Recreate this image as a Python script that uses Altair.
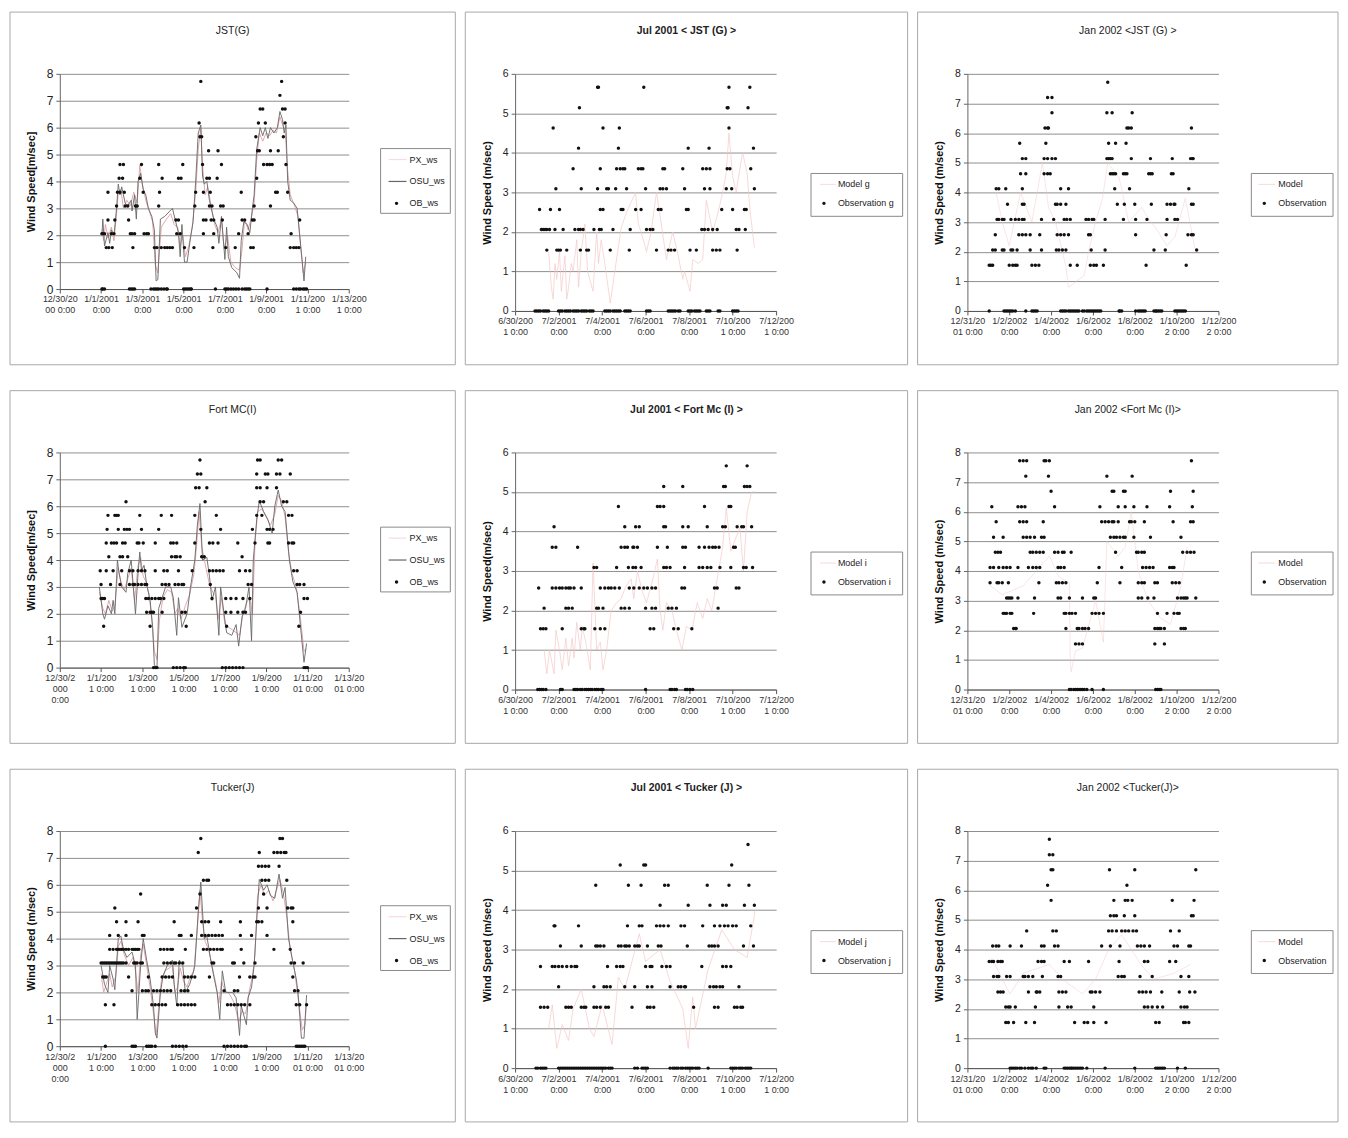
import json
import altair as alt
import pandas as pd

FONT = "Liberation Sans"

# ---------------- tick positions (hours from first tick) and labels ----------------
TICKS_14D = [0, 48, 96, 144, 192, 240, 288, 336]
TICKS_12D = [0, 48, 96, 144, 192, 240, 288]
LABELS_JAN01_JST = ["12/30/20|00 0:00", "1/1/2001|0:00", "1/3/2001|0:00", "1/5/2001|0:00",
                    "1/7/2001|0:00", "1/9/2001|0:00", "1/11/200|1 0:00", "1/13/200|1 0:00"]
LABELS_JAN01 = ["12/30/2|000|0:00", "1/1/200|1 0:00", "1/3/200|1 0:00", "1/5/200|1 0:00",
                "1/7/200|1 0:00", "1/9/200|1 0:00", "1/11/20|01 0:00", "1/13/20|01 0:00"]
LABELS_JUL01 = ["6/30/200|1 0:00", "7/2/2001|0:00", "7/4/2001|0:00", "7/6/2001|0:00",
                "7/8/2001|0:00", "7/10/200|1 0:00", "7/12/200|1 0:00"]
LABELS_JAN02 = ["12/31/20|01 0:00", "1/2/2002|0:00", "1/4/2002|0:00", "1/6/2002|0:00",
                "1/8/2002|0:00", "1/10/200|2 0:00", "1/12/200|2 0:00"]

# ---------------- Panel A: JST(G), Jan 2001 ----------------
A_OBS = [(49,2.06),(50,2.06),(52,2.06),(54,1.54),(57,1.54),(56,2.57),(56,3.6),(60,2.06),(63,2.06),(61,1.54),
         (64,2.57),(66,3.09),(67,3.6),(70,3.6),(69,4.12),(73,4.12),(70,4.63),(74,4.63),(75,3.6),(76,3.09),
         (79,3.09),(80,2.57),(82,2.06),(85,1.54),(84,2.06),(87,2.06),(88,3.09),(90,3.09),(93,4.12),(95,4.63),
         (97,3.6),(98,2.06),(101,2.06),(103,2.06),(110,1.54),(113,1.54),(115,4.63),(116,3.6),(115,3.09),(119,4.12),
         (118,1.54),(122,1.54),(125,1.54),(128,1.54),(131,1.54),(135,2.57),(138,2.57),(136,2.06),(140,2.06),(138,4.12),
         (141,4.12),(143,4.63),(145,1.54),(156,1.54),(157,3.09),(158,3.6),(162,6.17),(163,5.66),(164,7.72),(165,5.66),
         (166,4.63),(167,3.6),(167,2.57),(170,2.57),(167,2.06),(173,5.14),(171,4.12),(174,4.12),(174,3.09),(177,3.09),
         (175,3.6),(176,2.57),(179,2.57),(179,2.06),(178,1.54),(184,5.14),(183,4.12),(188,4.63),(187,3.09),(190,3.09),
         (189,2.57),(193,1.54),(204,1.54),(208,2.06),(211,3.6),(212,2.57),(215,2.57),(219,2.06),(222,1.54),(225,1.54),
         (224,2.57),(226,2.57),(226,3.09),(229,4.12),(228,5.66),(230,5.14),(232,5.14),(231,6.17),(233,6.69),(236,6.69),
         (239,6.17),(237,4.63),(241,4.63),(244,4.63),(247,4.63),(245,3.09),(245,5.14),(251,3.6),(253,3.6),(254,5.14),
         (256,7.2),(258,7.72),(259,6.69),(262,6.69),(260,5.66),(262,6.17),(263,4.63),(265,3.6),(269,2.06),(268,1.54),
         (272,1.54),(275,1.54),(278,1.54),(279,2.57)]
A_ZERO = [49,50,52,81,83,85,87,106,109,111,113,115,118,121,124,125,144,146,148,150,152,153,181,192,194,196,
          199,202,205,208,212,215,217,219,221,241,272,275,278,280,283,285,287]
A_OSU = [(49,2.0),(50,2.6),(52,1.6),(56,2.1),(58,1.7),(60,2.2),(63,2.0),(66,3.0),(68,3.9),(70,3.5),(72,3.8),
         (76,3.2),(79,3.1),(83,3.3),(84,2.9),(87,3.5),(89,2.6),(91,4.0),(94,4.3),(97,3.7),(100,3.5),(103,3.0),
         (107,2.7),(110,2.2),(112,0.3),(114,0.35),(117,2.6),(122,2.7),(128,2.9),(131,3.0),(134,2.6),(138,2.1),
         (140,1.2),(142,2.4),(145,1.0),(148,1.0),(152,1.9),(155,2.5),(158,4.0),(161,5.8),(164,6.1),(166,4.2),
         (168,3.9),(171,4.0),(174,3.3),(179,2.6),(183,2.3),(185,1.7),(188,2.7),(192,1.1),(194,2.3),(196,1.2),
         (200,0.8),(206,0.6),(209,0.4),(211,1.8),(214,2.5),(218,2.4),(221,2.1),(224,3.0),(226,3.5),(229,5.2),
         (233,6.0),(236,5.7),(239,6.0),(242,5.6),(245,6.0),(249,5.8),(253,6.0),(256,6.6),(259,6.3),(261,5.8),
         (263,6.1),(265,4.0),(268,3.3),(272,3.2),(276,3.0),(279,2.0),(282,1.0),(284,0.3),(286,1.2)]
A_PX = [(49,2.2),(51,1.8),(53,2.4),(56,1.9),(60,2.3),(63,1.8),(66,2.8),(68,3.6),(71,3.7),(74,3.0),(78,3.3),
        (82,3.1),(86,3.6),(90,3.2),(93,4.6),(96,3.9),(100,3.3),(104,2.9),(108,2.5),(111,0.9),(114,0.6),(118,2.3),
        (124,2.6),(129,2.8),(133,2.4),(137,2.3),(140,1.6),(143,2.0),(146,1.2),(150,1.6),(154,2.3),(158,3.6),
        (161,5.2),(164,6.0),(166,4.6),(169,3.5),(172,3.8),(176,3.1),(180,2.4),(184,2.1),(188,2.6),(191,1.5),
        (195,2.0),(199,1.0),(204,0.8),(209,0.7),(212,1.5),(215,2.6),(219,2.2),(223,2.7),(226,3.2),(229,4.8),
        (232,5.8),(236,5.5),(240,5.8),(244,5.7),(248,5.9),(252,5.8),(256,6.4),(259,6.1),(262,5.9),(265,4.4),
        (268,3.5),(273,3.1),(277,2.7),(280,1.6),(283,0.6),(286,1.0)]

# ---------------- Panel D: Fort MC(I), Jan 2001 ----------------
D_OBS = [(48,3.09),(47,3.6),(48,2.57),(50,2.57),(52,2.57),(51,1.54),(54,3.6),(56,5.66),(55,5.14),(54,4.63),
         (57,4.12),(59,3.09),(62,3.6),(64,5.66),(66,5.66),(68,5.66),(68,5.14),(60,4.63),(63,4.63),(66,4.63),
         (70,4.12),(73,4.12),(72,3.6),(70,3.09),(77,6.17),(75,5.14),(78,5.14),(81,5.14),(73,4.63),(76,4.63),
         (81,3.6),(85,3.6),(81,3.09),(85,3.09),(79,4.12),(93,5.66),(95,5.14),(90,4.63),(92,4.63),(97,4.63),
         (87,3.09),(91,3.09),(95,3.09),(99,3.09),(101,3.09),(91,3.6),(95,3.6),(99,3.6),(100,2.57),(103,2.57),
         (101,2.06),(105,2.06),(107,2.57),(111,2.57),(115,2.57),(107,2.06),(109,2.06),(105,1.54),(111,3.6),
         (111,4.63),(115,5.14),(118,5.66),(117,2.57),(121,2.57),(119,2.06),(119,3.09),(123,3.09),(127,3.09),
         (121,3.6),(125,3.6),(129,4.63),(132,4.63),(130,5.66),(130,4.12),(134,4.12),(134,3.09),(138,3.09),
         (142,3.09),(144,3.09),(136,4.12),(140,4.12),(142,2.06),(146,2.06),(147,1.54),(138,3.6),(136,4.63),
         (154,3.6),(157,4.63),(157,5.66),(158,6.69),(162,6.69),(160,7.2),(164,7.2),(163,7.72),(164,5.14),
         (165,4.12),(168,4.12),(171,6.69),(169,6.17),(174,4.63),(178,4.63),(184,4.63),(182,5.66),(174,3.6),
         (178,3.6),(182,3.6),(186,3.6),(190,3.6),(187,5.14),(175,3.09),(177,2.57),(193,2.57),(199,2.57),
         (205,2.57),(213,2.57),(193,2.06),(199,2.06),(207,2.06),(213,2.06),(216,2.06),(194,1.54),(207,4.63),
         (212,4.12),(209,3.6),(216,3.6),(221,3.6),(219,3.09),(221,2.57),(223,3.09),(224,5.14),(227,4.63),
         (229,6.69),(233,6.69),(229,7.2),(230,7.72),(233,7.72),(233,6.17),(237,6.17),(229,5.66),(235,5.66),
         (241,5.14),(244,5.14),(248,5.14),(239,7.2),(242,7.2),(241,6.69),(242,4.63),(244,4.63),(252,6.69),
         (254,7.72),(258,7.72),(252,7.2),(256,7.2),(260,6.17),(264,6.17),(266,5.66),(270,5.66),(266,4.63),
         (270,4.63),(272,4.63),(268,7.2),(272,3.6),(276,3.6),(276,3.09),(279,3.09),(284,3.09),(284,2.57),
         (288,2.57),(280,2.06),(278,1.54)]
D_ZERO = [109,111,113,132,136,140,144,146,189,193,197,201,205,209,213,284,286,288]
D_OSU = [(46,3.0),(50,2.0),(52,1.8),(56,2.3),(60,2.0),(62,2.5),(64,2.0),(66,3.3),(67,4.0),(69,3.5),(72,3.0),
         (77,2.8),(79,3.5),(83,4.0),(88,2.0),(91,3.5),(93,4.3),(95,3.6),(98,3.8),(101,3.1),(105,2.5),(108,1.5),
         (110,0.1),(113,0.0),(115,2.2),(118,2.5),(123,3.0),(129,3.0),(132,2.6),(136,1.2),(138,2.6),(142,1.5),
         (148,2.0),(152,3.0),(157,4.0),(160,5.3),(163,6.1),(166,4.0),(171,4.1),(174,3.4),(177,2.5),(181,3.0),
         (185,1.2),(187,3.0),(191,2.0),(194,1.3),(200,1.2),(205,1.6),(208,0.8),(212,1.9),(216,2.2),(220,3.0),
         (223,1.0),(225,4.0),(229,5.5),(232,6.2),(237,5.8),(242,5.5),(247,5.0),(250,6.0),(254,6.6),(258,6.0),
         (262,5.8),(267,4.0),(271,3.2),(276,2.8),(280,1.5),(284,0.2),(287,0.9)]
D_PX = [(46,2.8),(50,2.2),(53,2.0),(57,2.5),(61,2.1),(64,2.3),(66,3.0),(68,3.7),(71,3.2),(75,2.9),(79,3.3),
        (83,3.7),(87,2.5),(91,3.8),(94,4.1),(97,3.4),(100,3.2),(104,2.7),(107,1.8),(110,0.6),(113,0.3),(116,1.8),
        (120,2.6),(125,2.9),(130,2.8),(134,2.0),(137,2.2),(141,1.8),(146,2.3),(151,2.7),(156,3.5),(159,4.5),
        (162,5.8),(165,4.5),(170,3.7),(174,3.1),(178,2.8),(181,2.7),(184,1.8),(188,2.6),(192,1.6),(196,1.5),
        (201,1.4),(205,1.3),(209,1.2),(213,2.0),(217,2.4),(221,2.6),(224,2.0),(227,4.6),(230,5.8),(235,5.9),
        (240,5.6),(245,5.3),(250,5.7),(254,6.4),(258,6.2),(262,5.6),(266,4.3),(270,3.5),(275,3.0),(280,1.8),
        (284,0.6),(287,0.7)]

# ---------------- Panel G: Tucker(J), Jan 2001 ----------------
G_OBS = [(48,3.09),(50,3.09),(52,3.09),(54,3.09),(56,3.09),(58,3.09),(60,3.09),(62,3.09),(64,3.09),(66,3.09),
         (68,3.09),(70,3.09),(72,3.09),(50,2.57),(52,2.57),(54,2.57),(53,1.54),(63,1.54),(58,4.12),(68,4.12),
         (64,5.14),(66,4.63),(58,3.6),(62,3.6),(66,3.6),(68,3.6),(70,3.6),(72,3.6),(74,3.6),(77,3.6),(80,3.6),
         (84,3.6),(86,3.6),(88,3.6),(90,3.6),(92,3.6),(77,4.63),(77,4.12),(74,3.09),(77,3.09),(86,3.09),(88,3.09),
         (90,3.09),(94,3.09),(96,3.09),(80,2.57),(84,2.06),(91,4.63),(94,5.66),(96,4.12),(98,4.12),(96,2.06),
         (100,2.06),(103,2.06),(103,2.57),(107,1.54),(111,1.54),(115,1.54),(119,1.54),(123,1.54),(109,2.06),
         (113,2.06),(117,2.06),(121,2.06),(125,2.06),(129,2.06),(117,3.6),(121,3.6),(125,3.6),(119,2.57),
         (123,2.57),(127,2.57),(131,2.57),(121,3.09),(125,3.09),(129,3.09),(133,3.09),(129,3.6),(131,3.6),
         (133,4.63),(139,4.12),(141,4.12),(135,3.09),(139,3.09),(143,3.09),(137,1.54),(141,1.54),(145,1.54),
         (149,1.54),(153,1.54),(157,1.54),(141,2.06),(145,2.06),(149,2.06),(145,2.57),(149,2.57),(153,2.57),
         (157,2.57),(146,3.6),(153,4.12),(159,5.14),(161,7.2),(164,7.72),(163,5.66),(167,6.17),(171,6.17),
         (173,6.17),(165,4.63),(169,4.63),(173,4.63),(165,4.12),(169,4.12),(173,4.12),(177,4.12),(181,4.12),
         (185,4.12),(189,4.12),(167,3.6),(171,3.6),(175,3.6),(179,3.6),(183,3.6),(187,3.6),(189,3.6),(177,3.09),
         (179,3.09),(174,2.57),(187,4.63),(191,2.06),(195,1.54),(199,1.54),(203,1.54),(201,3.09),(203,3.09),
         (203,2.06),(207,2.06),(207,1.54),(211,1.54),(215,1.54),(210,4.12),(211,3.6),(210,4.63),(209,2.57),
         (214,3.09),(223,4.12),(221,2.57),(225,2.57),(227,2.57),(221,1.54),(227,3.09),(229,4.63),(231,4.63),
         (235,4.63),(231,5.14),(232,7.2),(231,6.69),(235,6.69),(239,6.69),(243,6.69),(235,6.17),(239,6.17),
         (243,6.17),(237,5.66),(241,5.14),(241,4.12),(249,3.6),(249,7.2),(253,7.2),(257,7.2),(261,7.2),(263,7.2),
         (256,7.72),(259,7.72),(255,6.69),(264,6.17),(265,5.14),(269,5.14),(271,5.14),(271,4.63),(268,3.6),
         (269,3.09),(273,3.09),(271,2.57),(273,2.06),(277,2.06),(275,1.54),(279,1.54),(283,3.09),(287,1.54)]
G_ZERO = [53,84,86,88,101,103,105,107,111,131,135,139,143,147,191,195,199,203,207,211,215,217,275,277,279,281,283,285]
G_OSU = [(48,3.0),(52,2.3),(56,2.0),(58,3.0),(62,2.5),(64,2.1),(68,4.0),(71,4.1),(74,3.6),(78,3.3),(84,3.5),
         (88,3.0),(90,1.0),(94,3.0),(97,4.0),(101,3.2),(105,2.5),(109,1.5),(111,0.5),(113,0.3),(117,2.0),(120,2.6),
         (125,3.0),(131,3.2),(133,2.3),(136,1.5),(139,3.2),(143,3.0),(146,2.0),(151,2.3),(154,2.6),(157,3.0),
         (161,5.0),(164,6.1),(166,5.0),(168,4.0),(171,4.1),(175,3.3),(179,2.6),(183,2.0),(186,1.0),(189,2.8),
         (193,2.0),(201,2.0),(205,1.8),(209,0.4),(211,1.5),(217,0.8),(219,1.8),(223,2.2),(226,3.0),(230,5.2),
         (232,6.2),(237,5.8),(241,6.0),(245,5.6),(250,5.5),(255,6.4),(259,5.5),(262,5.9),(266,4.0),(270,3.3),
         (275,2.5),(277,2.0),(281,0.3),(284,0.3),(287,1.9)]
G_PX = [(48,2.7),(51,2.0),(55,2.4),(58,2.7),(61,2.2),(65,2.6),(68,3.7),(71,3.9),(75,3.4),(80,3.0),(85,3.3),
        (88,2.8),(91,2.0),(94,3.4),(97,3.8),(101,3.0),(105,2.2),(109,1.2),(112,0.4),(115,1.4),(118,2.4),(122,2.8),
        (127,2.9),(131,3.0),(134,2.0),(137,2.2),(140,2.9),(144,2.4),(148,2.2),(152,2.6),(156,2.8),(160,4.4),
        (163,5.8),(166,4.6),(169,3.9),(173,3.6),(177,3.0),(181,2.4),(185,1.6),(188,2.4),(192,2.1),(198,1.9),
        (203,1.6),(208,0.9),(212,1.3),(216,1.2),(220,2.0),(224,2.6),(227,3.4),(230,5.6),(234,6.0),(238,5.6),
        (243,5.8),(248,5.4),(253,5.9),(256,6.2),(260,5.7),(264,4.8),(268,3.6),(273,2.8),(278,1.6),(282,0.6),
        (285,0.8),(287,1.6)]

# ---------------- Panel B: JST (G), Jul 2001 ----------------
B_OBS = [(27,2.57),(29,2.06),(31,2.06),(33,2.06),(35,2.06),(38,2.06),(35,1.54),(39,2.57),(42,4.63),(45,3.09),
         (44,2.06),(46,1.54),(48,1.54),(49,2.57),(50,1.54),(53,2.06),(57,1.54),(64,3.6),(66,2.06),(71,5.14),
         (70,4.12),(70,2.06),(72,2.06),(75,2.06),(72,1.54),(73,3.09),(79,1.54),(81,1.54),(87,2.06),(91,5.66),
         (92,5.66),(91,3.09),(93,2.06),(95,2.06),(94,2.57),(97,2.57),(94,3.6),(97,4.63),(101,3.09),(103,3.09),
         (108,2.06),(105,1.54),(115,4.63),(114,4.12),(112,3.6),(116,3.6),(119,3.6),(121,3.6),(117,2.57),
         (119,2.57),(111,3.09),(123,3.09),(127,2.06),(126,1.54),(133,2.57),(136,3.6),(139,3.6),(141,3.6),
         (139,2.57),(142,5.66),(144,3.09),(145,2.06),(149,2.06),(152,2.06),(156,1.54),(163,3.6),(165,3.6),
         (158,2.57),(161,2.57),(160,3.09),(163,3.09),(167,3.09),(169,1.54),(172,1.54),(176,1.54),(185,3.6),
         (187,3.09),(189,2.57),(191,2.57),(191,4.12),(193,1.54),(200,1.54),(206,2.06),(209,2.06),(213,2.06),
         (218,2.06),(207,3.6),(211,3.6),(215,3.6),(214,4.12),(209,3.09),(215,3.09),(218,1.54),(222,1.54),
         (226,1.54),(223,2.06),(233,3.09),(234,3.6),(237,3.6),(228,2.57),(234,5.14),(235,5.14),(236,5.66),
         (236,4.63),(239,3.09),(240,2.57),(244,2.06),(247,2.06),(245,1.54),(253,2.57),(255,2.57),(254,2.06),
         (257,5.14),(259,5.66),(260,3.6),(263,4.12),(264,3.09)]
B_ZERO = [22,24,26,28,31,33,35,37,48,50,52,55,57,59,61,64,66,68,70,73,75,77,79,82,84,86,99,101,103,105,108,
          110,112,114,116,121,123,125,127,145,147,149,169,171,173,175,177,180,182,191,193,195,198,200,202,204,
          211,213,215,224,226,240,242,244,246]
B_MODEL = [(37,1.5),(40,0.6),(42,0.3),(44,1.2),(46,0.8),(49,1.5),(51,0.5),(55,1.4),(57,0.3),(59,0.6),(62,1.2),
           (64,1.0),(68,1.8),(70,0.6),(73,1.5),(77,2.2),(80,1.0),(86,0.5),(90,2.0),(92,1.2),(95,1.8),(99,1.2),
           (105,0.2),(110,1.0),(117,2.1),(123,2.5),(133,3.0),(136,2.2),(139,2.0),(145,1.5),(150,2.0),(156,3.0),
           (160,2.4),(167,1.3),(174,2.0),(180,1.4),(185,0.8),(187,1.0),(193,0.5),(196,1.3),(202,1.2),(207,1.3),
           (211,2.8),(218,2.0),(224,2.5),(229,3.0),(233,3.5),(236,4.5),(240,3.4),(244,3.0),(248,3.6),(251,4.0),
           (256,3.5),(259,2.6),(262,2.0),(264,1.6)]

# ---------------- Panel E: Fort Mc (I), Jul 2001 ----------------
E_OBS = [(26,2.57),(32,2.06),(28,1.54),(31,1.54),(34,1.54),(43,4.12),(41,3.6),(45,3.6),(41,2.57),(45,2.57),
         (49,2.57),(52,2.57),(56,2.57),(59,2.57),(61,2.57),(65,2.57),(56,2.06),(59,2.06),(63,2.06),(52,1.54),
         (69,3.6),(73,2.57),(73,1.54),(76,1.54),(77,1.54),(87,3.09),(90,3.09),(90,2.06),(92,2.06),(97,2.06),
         (88,1.54),(94,1.54),(99,1.54),(94,2.57),(99,2.57),(103,2.57),(106,2.57),(110,2.57),(115,2.57),
         (114,4.63),(112,3.09),(121,4.12),(117,3.6),(121,3.6),(124,3.6),(130,3.6),(117,2.06),(121,2.06),
         (126,2.06),(125,3.09),(130,3.09),(133,3.09),(139,3.09),(126,2.57),(131,2.57),(137,2.57),(142,2.57),
         (146,2.57),(151,2.57),(155,2.57),(133,4.12),(137,4.12),(131,3.6),(135,3.6),(144,2.06),(151,2.06),
         (155,2.06),(149,1.54),(153,1.54),(157,3.6),(157,4.63),(160,4.63),(164,4.63),(164,5.14),(164,4.12),
         (166,4.12),(164,3.09),(167,3.09),(171,3.09),(168,3.6),(169,2.06),(173,2.06),(178,2.06),(175,1.54),
         (180,1.54),(184,2.57),(187,2.57),(185,3.6),(188,3.6),(185,4.12),(191,4.12),(185,5.14),(187,3.09),
         (195,1.54),(203,3.6),(203,3.09),(207,3.09),(212,3.09),(216,3.09),(209,4.63),(212,4.12),(209,3.6),
         (214,3.6),(218,3.6),(221,3.6),(225,3.6),(220,2.57),(223,2.57),(224,2.06),(226,3.09),(229,4.12),
         (232,4.12),(230,5.14),(232,5.14),(233,5.66),(236,4.63),(238,4.63),(238,3.09),(241,3.6),(243,3.6),
         (244,2.57),(247,2.57),(245,4.12),(250,4.12),(252,3.09),(255,3.09),(252,4.12),(253,5.14),(256,5.14),
         (259,5.14),(256,5.66),(262,3.09),(261,4.12)]
E_ZERO = [25,27,29,31,34,50,52,65,67,69,72,74,77,79,81,83,85,88,90,92,95,97,144,171,173,176,178,188,190,193,196]
E_MODEL = [(32,1.0),(35,0.4),(38,1.0),(43,0.4),(45,1.5),(49,1.0),(52,0.5),(56,1.3),(59,0.6),(63,1.3),(65,0.8),
           (68,1.7),(72,1.0),(74,1.6),(78,1.2),(83,0.5),(86,3.2),(90,1.0),(94,1.2),(97,0.5),(101,1.0),(106,2.0),
           (112,2.2),(117,2.3),(122,2.6),(128,2.8),(131,2.3),(135,3.0),(140,2.5),(145,2.2),(151,2.7),(157,3.3),
           (160,2.0),(163,1.5),(167,2.2),(173,2.0),(178,1.5),(184,1.0),(189,1.6),(195,1.5),(201,2.2),(207,1.8),
           (212,2.3),(217,2.0),(223,2.8),(229,3.6),(233,4.6),(238,3.5),(243,3.8),(248,4.1),(252,3.0),(256,4.5),
           (261,5.0),(266,5.0)]

# ---------------- Panel H: Tucker (J), Jul 2001 ----------------
H_OBS = [(28,2.57),(28,1.54),(32,1.54),(36,1.54),(43,3.6),(44,3.6),(41,2.57),(44,2.57),(48,2.57),(52,2.57),
         (57,2.57),(48,2.06),(50,3.09),(56,1.54),(59,1.54),(62,1.54),(62,2.57),(66,2.57),(68,2.57),(70,3.6),
         (73,3.09),(73,1.54),(76,1.54),(78,1.54),(89,4.63),(87,2.06),(87,1.54),(90,1.54),(94,1.54),(89,3.09),
         (91,3.09),(94,3.09),(98,3.09),(98,2.06),(101,2.06),(105,2.06),(100,1.54),(103,1.54),(102,2.57),
         (112,2.57),(116,2.57),(119,2.57),(114,3.09),(117,3.09),(121,3.09),(116,5.14),(125,4.63),(124,3.6),
         (123,3.09),(126,3.09),(121,2.06),(129,1.54),(132,3.09),(135,3.09),(137,3.09),(132,2.06),(142,5.14),
         (144,5.14),(139,4.63),(137,3.6),(140,3.6),(146,3.09),(144,2.57),(149,2.57),(151,2.57),(146,2.06),
         (151,2.06),(146,1.54),(149,1.54),(153,1.54),(156,3.6),(160,3.6),(164,3.6),(160,4.12),(158,3.09),
         (161,3.09),(162,2.57),(167,2.57),(171,2.57),(165,4.63),(169,4.63),(169,3.6),(171,2.06),(180,2.06),
         (183,2.06),(187,2.06),(188,2.06),(183,3.6),(187,3.6),(191,4.12),(190,3.09),(197,1.54),(206,2.57),
         (207,3.6),(212,4.63),(215,4.12),(214,3.09),(217,3.09),(220,3.09),(224,3.09),(215,2.06),(219,2.06),
         (222,2.06),(226,2.06),(229,2.06),(220,1.54),(224,1.54),(220,3.6),(226,3.6),(231,3.6),(235,3.6),
         (240,3.6),(229,4.12),(233,4.12),(236,4.63),(239,5.14),(229,2.57),(233,2.57),(238,2.57),(247,2.06),
         (242,1.54),(245,1.54),(249,1.54),(251,1.54),(244,3.6),(253,4.12),(257,5.66),(258,4.63),(260,3.6),
         (252,3.09),(263,3.09),(264,4.12)]
H_ZERO = [23,25,28,30,32,34,48,50,52,54,56,58,60,62,64,66,68,70,72,74,76,78,80,82,84,86,88,90,92,94,96,98,
          100,103,105,107,132,135,140,142,144,146,171,174,176,178,180,183,185,188,190,192,194,196,199,201,203,
          213,238,240,242,244,247,249,251,254,256,258,260]
H_MODEL = [(37,1.0),(41,1.6),(46,0.5),(52,1.1),(59,0.7),(64,1.5),(73,2.0),(82,1.0),(87,0.8),(96,1.6),(107,0.6),
           (114,2.3),(121,2.0),(137,3.4),(144,2.7),(160,3.0),(171,2.2),(185,1.5),(191,0.5),(196,1.8),(199,1.0),
           (213,2.5),(228,3.5),(242,3.0),(256,2.8),(265,4.0)]

# ---------------- Panel C: JST (G), Jan 2002 ----------------
C_OBS = [(25,1.54),(27,1.54),(29,1.54),(29,2.06),(32,2.06),(32,2.57),(34,3.09),(36,3.09),(40,3.09),(42,3.09),
         (33,4.12),(36,4.12),(44,4.12),(46,3.6),(40,2.06),(42,2.06),(48,1.54),(52,1.54),(55,1.54),(57,1.54),
         (50,2.06),(57,2.06),(50,3.09),(55,3.09),(59,3.09),(63,3.09),(65,3.09),(52,2.06),(60,5.66),(63,5.14),
         (67,5.14),(61,4.63),(67,4.63),(63,4.12),(63,3.6),(65,3.6),(59,2.57),(63,2.57),(67,2.57),(72,2.57),
         (72,2.06),(74,1.54),(78,1.54),(82,1.54),(85,3.09),(83,2.57),(85,2.06),(90,5.66),(88,5.14),(92,5.14),
         (97,5.14),(101,5.14),(88,4.63),(92,4.63),(95,4.63),(89,6.17),(92,6.17),(93,6.17),(92,7.2),(97,7.2),
         (97,6.69),(99,3.09),(101,3.6),(103,3.6),(107,3.6),(103,2.57),(107,2.57),(111,2.57),(116,2.57),
         (102,2.06),(105,2.06),(109,2.06),(113,2.06),(107,4.12),(116,4.12),(113,3.6),(111,3.09),(114,3.09),
         (118,3.09),(118,1.54),(126,1.54),(136,3.09),(139,3.09),(143,3.09),(145,3.09),(139,2.57),(141,2.57),
         (142,2.06),(141,1.54),(145,1.54),(148,1.54),(158,3.09),(158,2.06),(156,1.54),(160,5.14),(162,5.14),
         (164,5.14),(166,5.14),(160,6.69),(166,6.69),(161,7.72),(162,5.66),(164,4.63),(166,4.63),(168,4.63),
         (170,4.63),(169,4.12),(172,3.6),(170,5.66),(182,5.66),(179,4.63),(181,4.63),(183,4.63),(183,6.17),
         (185,6.17),(188,6.17),(189,6.69),(188,5.14),(186,4.12),(180,3.6),(192,3.6),(179,3.09),(193,3.09),
         (193,2.57),(206,3.09),(208,4.63),(210,4.63),(212,4.63),(210,5.14),(211,3.6),(205,1.54),(214,2.06),
         (235,5.14),(234,4.63),(236,4.63),(229,3.6),(233,3.6),(237,3.6),(238,3.6),(229,3.09),(238,3.09),
         (241,3.09),(228,2.57),(227,2.06),(251,1.54),(254,4.12),(257,6.17),(256,5.14),(258,5.14),(259,5.14),
         (257,3.6),(259,3.6),(253,2.57),(257,2.57),(259,2.57),(263,2.06)]
C_ZERO = [25,42,44,46,48,50,52,55,67,74,76,78,80,107,109,111,113,116,118,120,122,124,126,128,132,134,137,139,
          141,143,145,147,149,151,153,174,175,177,193,196,198,200,202,204,214,216,217,219,221,223,238,240,242,
          244,246,248,250]
C_MODEL = [(33,4.0),(40,3.0),(48,2.2),(61,4.0),(74,3.0),(86,5.0),(93,3.5),(101,3.0),(113,1.5),(116,0.8),
           (134,1.2),(139,2.0),(147,3.0),(155,3.8),(161,5.0),(174,4.5),(185,3.0),(200,3.5),(208,3.1),(216,2.8),
           (229,2.2),(238,2.5),(250,3.8),(261,2.1)]

# ---------------- Panel F: Fort Mc (I), Jan 2002 ----------------
F_OBS = [(26,3.6),(28,6.17),(30,5.14),(41,5.14),(33,5.66),(32,4.63),(35,4.63),(38,4.63),(26,4.12),(30,4.12),
         (36,4.12),(41,4.12),(45,4.12),(49,4.12),(58,4.12),(34,3.6),(36,3.6),(40,3.6),(47,3.6),(41,2.57),
         (43,2.57),(45,2.57),(45,3.09),(47,3.09),(49,3.09),(51,3.09),(58,3.09),(53,2.06),(55,2.06),(56,2.06),
         (49,2.57),(51,2.57),(60,7.72),(64,7.72),(68,7.72),(58,6.17),(62,6.17),(66,6.17),(67,7.2),(60,5.66),
         (64,5.66),(68,5.66),(64,5.14),(68,5.14),(72,5.14),(77,5.14),(70,4.12),(75,4.12),(79,4.12),(83,4.12),
         (72,4.63),(75,4.63),(79,4.63),(83,4.63),(87,4.63),(77,3.09),(76,2.57),(82,3.6),(85,5.14),(88,5.14),
         (87,5.66),(88,7.72),(90,7.72),(94,7.72),(93,7.2),(96,6.69),(100,6.17),(100,4.63),(104,4.63),(109,4.63),
         (111,4.63),(119,4.63),(104,4.12),(107,4.12),(111,4.12),(102,3.6),(105,3.6),(109,3.6),(113,3.6),
         (104,3.09),(107,3.09),(117,3.09),(111,2.57),(113,2.57),(117,2.57),(120,2.57),(124,2.57),(113,2.06),
         (126,2.06),(128,2.06),(132,2.06),(135,2.06),(139,2.06),(124,1.54),(128,1.54),(132,1.54),(132,3.09),
         (145,3.09),(147,3.09),(143,2.57),(147,2.57),(151,2.57),(156,2.57),(151,4.12),(149,3.6),(152,6.17),
         (154,5.66),(158,5.66),(162,5.66),(166,5.66),(168,5.66),(160,7.2),(166,6.69),(168,6.69),(164,5.14),
         (168,5.14),(171,5.14),(175,5.14),(179,5.14),(181,5.14),(170,4.63),(173,6.17),(181,6.17),(191,6.17),
         (173,5.66),(186,5.66),(188,5.66),(192,5.66),(179,6.69),(181,6.69),(189,7.2),(177,4.12),(175,3.6),
         (194,4.63),(196,4.63),(200,4.63),(203,4.63),(191,5.14),(210,5.14),(196,3.6),(200,3.6),(203,3.6),
         (196,3.09),(200,3.09),(201,4.12),(205,4.12),(209,4.12),(213,4.12),(203,5.66),(206,6.17),(215,3.6),
         (218,3.6),(207,3.09),(214,3.09),(218,2.57),(229,2.57),(237,2.57),(241,2.57),(243,2.57),(215,2.06),
         (218,2.06),(220,2.06),(222,2.06),(226,2.06),(245,2.06),(215,1.54),(226,1.54),(232,6.17),(233,6.69),
         (236,5.66),(232,4.12),(235,4.12),(237,4.12),(235,3.6),(239,3.6),(243,3.6),(241,3.09),(245,3.09),
         (248,3.09),(250,3.09),(252,3.09),(262,3.09),(245,5.14),(247,4.63),(252,4.63),(256,4.63),(260,4.63),
         (257,7.72),(259,6.69),(258,6.17),(256,5.66),(259,5.66),(248,2.06),(250,2.06)]
F_ZERO = [117,119,122,124,126,128,130,132,134,137,143,156,216,218,220,222]
F_MODEL = [(26,3.5),(40,3.2),(64,3.5),(79,4.0),(94,4.5),(105,3.8),(117,3.6),(118,1.0),(119,0.6),(124,1.3),
           (132,1.4),(147,3.0),(156,1.6),(160,5.0),(173,4.5),(181,4.8),(188,6.0),(196,4.0),(207,3.0),(222,2.4),
           (233,2.2),(245,3.5),(252,4.8)]

# ---------------- Panel I: Tucker (J), Jan 2002 ----------------
I_OBS = [(25,3.6),(28,3.6),(30,3.6),(29,4.12),(33,4.12),(36,4.12),(35,3.6),(38,3.6),(40,3.6),(30,3.09),
         (34,3.09),(36,3.09),(35,2.57),(38,2.57),(41,2.57),(45,3.09),(49,3.09),(44,2.06),(47,2.06),(49,2.06),
         (44,1.54),(47,1.54),(53,1.54),(49,4.12),(55,2.06),(62,4.12),(68,4.63),(64,3.09),(66,3.09),(70,3.09),
         (75,3.09),(70,2.57),(80,2.57),(67,1.54),(77,1.54),(78,2.06),(85,4.12),(88,4.12),(81,3.6),(85,3.6),
         (88,3.6),(86,3.09),(79,2.57),(83,2.57),(92,6.17),(94,7.72),(94,7.2),(98,7.2),(96,6.69),(98,6.69),
         (96,5.66),(98,4.63),(102,4.63),(100,4.12),(104,4.12),(104,3.09),(107,3.09),(111,3.6),(117,3.6),
         (105,2.57),(109,2.57),(113,2.57),(105,2.06),(115,2.06),(119,2.06),(123,1.54),(139,3.6),(141,2.57),
         (143,2.57),(147,2.57),(152,2.57),(145,2.06),(134,1.54),(138,1.54),(145,1.54),(159,1.54),(154,4.12),
         (163,6.69),(162,4.63),(166,4.63),(171,4.63),(177,4.63),(164,4.12),(175,4.12),(164,5.14),(168,5.14),
         (171,5.14),(168,5.66),(174,3.6),(173,3.09),(177,3.09),(180,3.09),(181,5.66),(184,5.66),(189,5.66),
         (180,5.14),(192,5.14),(181,4.63),(185,4.63),(190,4.63),(194,4.63),(183,6.17),(192,6.69),(195,4.12),
         (199,4.12),(203,4.12),(209,4.12),(203,3.6),(207,3.6),(198,3.09),(212,3.09),(197,2.57),(201,2.57),
         (205,2.57),(210,2.57),(203,2.06),(207,2.06),(212,2.06),(218,2.06),(224,2.06),(216,1.54),(220,1.54),
         (223,2.57),(232,3.6),(239,3.6),(233,4.63),(243,4.63),(235,5.66),(237,4.12),(241,4.12),(254,4.12),
         (256,4.12),(245,3.09),(254,3.09),(243,2.57),(255,2.57),(261,2.57),(245,2.06),(249,2.06),(252,2.06),
         (248,1.54),(250,1.54),(254,1.54),(260,5.66),(257,5.14),(259,5.14),(262,6.69)]
I_ZERO = [49,51,53,55,57,60,62,66,70,73,75,79,88,90,111,113,115,117,119,120,122,124,126,128,130,132,137,158,
          192,216,218,220,222,224,226,241,250]
I_MODEL = [(28,3.7),(49,2.5),(64,3.2),(94,3.5),(109,3.0),(132,2.5),(147,3.0),(162,4.0),(177,4.5),(199,3.5),
           (214,3.0),(237,3.2),(256,3.5)]

# ---------------- colours ----------------
OBS_COLOR = "#111111"
PX_COLOR = "#dc9aa2"
OSU_COLOR = "#666666"
MODEL_COLOR = "#f4c4c4"
GRID_COLOR = "#8f8f8f"
BORDER_COLOR = "#a8a8a8"
TEXT_COLOR = "#222222"

ONE = pd.DataFrame({"k": [0]})


def deco_text(txt, x, y, size=9.5, weight="normal", align="left"):
    return alt.Chart(ONE).mark_text(text=txt, font=FONT, fontSize=size, fontWeight=weight,
                                    align=align, baseline="middle", color=TEXT_COLOR).encode(
        x=alt.value(x), y=alt.value(y))


def deco_rect(x1, x2, y1, y2, color):
    return alt.Chart(ONE).mark_rect(fillOpacity=0, stroke=color, strokeWidth=1).encode(
        x=alt.value(x1), x2=alt.value(x2), y=alt.value(y1), y2=alt.value(y2))


def deco_rule(x1, x2, y, color, width=1.0):
    return alt.Chart(ONE).mark_rule(color=color, strokeWidth=width).encode(
        x=alt.value(x1), x2=alt.value(x2), y=alt.value(y))


def deco_dot(x, y):
    return alt.Chart(ONE).mark_circle(size=12, color=OBS_COLOR, opacity=1).encode(
        x=alt.value(x), y=alt.value(y))


def panel(p):
    w, h = p["w"], p["h"]
    rpad, bpad = p["rpad"], p["bpad"]
    xs = alt.Scale(domain=[0, p["xmax"]], nice=False, zero=False)
    ys = alt.Scale(domain=[0, p["ymax"]], nice=False)
    label_expr = "split(%s[round(datum.value / 48)], '|')" % json.dumps(p["labels"])
    xaxis = alt.Axis(values=p["ticks"], labelExpr=label_expr, title=None, grid=False,
                     domainColor="#555", tickColor="#555", tickSize=4, labelFont=FONT,
                     labelFontSize=9, labelColor="#333", labelPadding=2, labelLineHeight=11,
                     labelOverlap=False, labelFlush=False, labelAngle=0, labelBaseline="top")
    yaxis = alt.Axis(values=list(range(p["ymax"] + 1)), format="d", title=p["ytitle"], grid=True,
                     gridColor=GRID_COLOR, gridWidth=1, domainColor="#666", tickColor="#666",
                     tickSize=4, labelFont=FONT, labelFontSize=p["ylabsize"], labelColor="#222",
                     labelPadding=3, titleFont=FONT, titleFontSize=11, titleFontWeight="bold",
                     titleColor="#111", titlePadding=p["tpad"])
    enc = dict(x=alt.X("hour:Q", scale=xs, axis=xaxis), y=alt.Y("ws:Q", scale=ys, axis=yaxis))

    obs_df = pd.DataFrame(p["obs"] + [(hr, 0.0) for hr in p["zero"]], columns=["hour", "ws"])
    layers = [deco_rect(-50, w + rpad, -62, h + bpad, BORDER_COLOR)]
    for pts, color, width, op in p["lines"]:
        df = pd.DataFrame(pts, columns=["hour", "ws"])
        layers.append(alt.Chart(df).mark_line(color=color, strokeWidth=width, opacity=op).encode(**enc))
    layers.append(alt.Chart(obs_df).mark_circle(size=12, color=OBS_COLOR, opacity=1).encode(**enc))

    # title
    cx = (-50 + w + rpad) / 2.0
    layers.append(deco_text(p["title"], cx, -43, size=10.5, weight=p["tweight"], align="center"))

    # legend
    lg = p["legend"]
    layers.append(deco_rect(w + lg["x1"], w + lg["x2"], lg["y1"], lg["y2"], "#8a8a8a"))
    for item in lg["items"]:
        kind, label, y = item[0], item[1], item[2]
        if kind == "line":
            layers.append(deco_rule(w + lg["sx1"], w + lg["sx2"], y, item[3], 1.2))
        elif kind == "dot":
            layers.append(deco_dot(w + lg["dx"], y))
        layers.append(deco_text(label, w + lg["tx"], y, size=9))
    return alt.layer(*layers).properties(width=w, height=h)


def col1(title, ytitle, labels, obs, zero, px, osu):
    return dict(w=290, h=216, rpad=107, bpad=76, xmax=336, ymax=8, ticks=TICKS_14D, labels=labels,
                title=title, tweight="normal", ytitle=ytitle, ylabsize=12, tpad=10,
                obs=obs, zero=zero, lines=[(px, PX_COLOR, 1.0, 0.85), (osu, OSU_COLOR, 1.0, 0.9)],
                legend=dict(x1=32, x2=102, y1=75, y2=140, sx1=40, sx2=58, dx=48, tx=61,
                            items=[("line", "PX_ws", 86, "#f6dcdc"), ("line", "OSU_ws", 108, OSU_COLOR),
                                   ("dot", "OB_ws", 130)]))


def col2(title, ytitle, obs, zero, model, letter):
    return dict(w=262, h=238, rpad=132, bpad=54, xmax=288, ymax=6, ticks=TICKS_12D, labels=LABELS_JUL01,
                title=title, tweight="bold", ytitle=ytitle, ylabsize=10.5, tpad=10,
                obs=obs, zero=zero, lines=[(model, MODEL_COLOR, 1.0, 0.65)],
                legend=dict(x1=35, x2=127, y1=100, y2=143, sx1=44, sx2=60, dx=48, tx=62,
                            items=[("line", "Model " + letter, 111, "#f8e0e0"),
                                   ("dot", "Observation " + letter, 130)]))


def col3(title, obs, zero, model):
    return dict(w=252, h=238, rpad=120, bpad=54, xmax=288, ymax=8, ticks=TICKS_12D, labels=LABELS_JAN02,
                title=title, tweight="normal", ytitle="Wind Speed (m/sec)", ylabsize=10.5, tpad=10,
                obs=obs, zero=zero, lines=[(model, MODEL_COLOR, 1.0, 0.45)],
                legend=dict(x1=33, x2=115, y1=100, y2=143, sx1=40, sx2=57, dx=46, tx=60,
                            items=[("line", "Model", 111, "#f8e0e0"), ("dot", "Observation", 130)]))


PANELS = [
    [col1("JST(G)", "Wind Speed[m/sec]", LABELS_JAN01_JST, A_OBS, A_ZERO, A_PX, A_OSU),
     col2("Jul 2001 < JST (G) >", "Wind Speed (m/sec)", B_OBS, B_ZERO, B_MODEL, "g"),
     col3("Jan 2002 <JST (G) >", C_OBS, C_ZERO, C_MODEL)],
    [col1("Fort MC(I)", "Wind Speed[m/sec]", LABELS_JAN01, D_OBS, D_ZERO, D_PX, D_OSU),
     col2("Jul 2001 < Fort Mc (I) >", "Wind Speed(m/sec)", E_OBS, E_ZERO, E_MODEL, "i"),
     col3("Jan 2002 <Fort Mc (I)>", F_OBS, F_ZERO, F_MODEL)],
    [col1("Tucker(J)", "Wind Speed (m/sec)", LABELS_JAN01, G_OBS, G_ZERO, G_PX, G_OSU),
     col2("Jul 2001 < Tucker (J) >", "Wind Speed (m/sec)", H_OBS, H_ZERO, H_MODEL, "j"),
     col3("Jan 2002 <Tucker(J)>", I_OBS, I_ZERO, I_MODEL)],
]

rows = [alt.hconcat(*[panel(p) for p in row], spacing=8) for row in PANELS]
chart = alt.vconcat(*rows, spacing=24).properties(padding=1, background="white").configure_view(
    stroke="transparent")

chart.save("out.html", embed_options={"renderer": "svg", "actions": False})
